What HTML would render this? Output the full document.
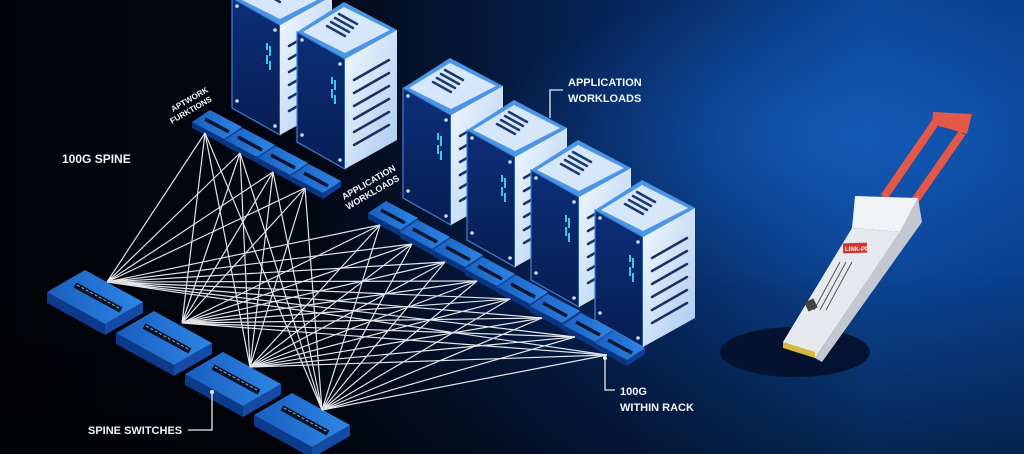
<!DOCTYPE html>
<html><head><meta charset="utf-8"><style>
html,body{margin:0;padding:0;background:#000;}
svg{display:block;}
text{font-family:"Liberation Sans",sans-serif;font-weight:bold;fill:#f2f4f8;}
</style></head><body>
<svg width="1024" height="454" viewBox="0 0 1024 454" xmlns="http://www.w3.org/2000/svg">
<defs>
<linearGradient id="bg" x1="0" y1="0" x2="1" y2="0">
<stop offset="0" stop-color="#020308"/><stop offset="0.3" stop-color="#030712"/>
<stop offset="0.6" stop-color="#06245a"/><stop offset="0.85" stop-color="#0b4596"/><stop offset="1" stop-color="#0a3f8e"/>
</linearGradient>
<radialGradient id="glow" cx="0.83" cy="0.3" r="0.35">
<stop offset="0" stop-color="#1864c8" stop-opacity="0.7"/><stop offset="1" stop-color="#1460c0" stop-opacity="0"/>
</radialGradient>
<linearGradient id="bot" x1="0" y1="0" x2="0" y2="1">
<stop offset="0.6" stop-color="#000" stop-opacity="0"/><stop offset="1" stop-color="#000" stop-opacity="0.45"/>
</linearGradient>
<linearGradient id="side" x1="0" y1="0" x2="1" y2="1">
<stop offset="0" stop-color="#f4f9ff"/><stop offset="1" stop-color="#a9c9f0"/>
</linearGradient>
<linearGradient id="front" x1="0" y1="0" x2="0" y2="1">
<stop offset="0" stop-color="#0c2f7a"/><stop offset="1" stop-color="#081d52"/>
</linearGradient>
<linearGradient id="sw" x1="0" y1="0" x2="1" y2="0">
<stop offset="0" stop-color="#1a5fc0"/><stop offset="1" stop-color="#2e86e6"/>
</linearGradient>
<g id="srv">
<polygon points="0,0 47,-30 100,-2 48,27" fill="#4a95e6"/>
<polygon points="6,0 47,-25 93,-2 48,21" fill="#d6e7fb"/>
<g stroke="#1a3a70" stroke-width="2.5" stroke-linecap="round">
<line x1="38" y1="-14" x2="56" y2="-4"/><line x1="34" y1="-10" x2="52" y2="0"/><line x1="30" y1="-6" x2="48" y2="4"/><line x1="42" y1="-18" x2="60" y2="-8"/>
</g>
<polygon points="0,0 48,27 48,137 0,110" fill="url(#front)" stroke="#3b82d8" stroke-width="1.2"/>
<polygon points="48,27 100,-2 100,108 48,137" fill="url(#side)"/>
<g stroke="#1b3160" stroke-width="2.5" stroke-linecap="round">
<line x1="57" y1="48" x2="92" y2="28"/><line x1="57" y1="61" x2="92" y2="41"/><line x1="57" y1="74" x2="92" y2="54"/><line x1="57" y1="87" x2="92" y2="67"/><line x1="57" y1="100" x2="92" y2="80"/><line x1="57" y1="113" x2="92" y2="93"/>
</g>
<g stroke="#38c8f0" stroke-width="2"><line x1="35" y1="45" x2="35" y2="52"/><line x1="38" y1="48" x2="38" y2="58"/><line x1="35" y1="57" x2="35" y2="66"/><line x1="38" y1="63" x2="38" y2="72"/></g>
<circle cx="5" cy="8" r="1.8" fill="#c8dcf5"/><circle cx="43" cy="32" r="1.8" fill="#c8dcf5"/><circle cx="5" cy="103" r="1.8" fill="#c8dcf5"/><circle cx="43" cy="128" r="1.8" fill="#c8dcf5"/>
</g>
<g id="leaf">
<polygon points="0,0 32,17 32,23 0,6" fill="#0c3580"/>
<polygon points="32,17 50,5 50,11 32,23" fill="#123f94"/>
<polygon points="0,0 18,-12 50,5 32,17" fill="url(#sw)"/>
<line x1="13" y1="-3" x2="37" y2="10" stroke="#0a1630" stroke-width="3.5"/>
</g>
<g id="spine">
<polygon points="0,0 58,32 58,43 0,11" fill="#0d3a8a"/>
<polygon points="58,32 96,10 96,21 58,43" fill="#154ba5"/>
<polygon points="0,0 38,-22 96,10 58,32" fill="url(#sw)"/>
<line x1="28" y1="-7" x2="74" y2="18" stroke="#0a1428" stroke-width="6"/>
<line x1="30" y1="-7" x2="72" y2="16" stroke="#8fb0d8" stroke-width="1" stroke-dasharray="3 2"/>
</g>
</defs>
<rect width="1024" height="454" fill="url(#bg)"/>
<rect width="1024" height="454" fill="url(#glow)"/>
<rect width="1024" height="454" fill="url(#bot)"/>

<use href="#srv" x="232" y="-2"/>
<use href="#srv" x="297" y="32"/>
<use href="#leaf" x="192" y="122"/>
<use href="#leaf" x="225" y="140"/>
<use href="#leaf" x="258" y="158"/>
<use href="#leaf" x="291" y="176"/>
<use href="#srv" x="403" y="88"/>
<use href="#srv" x="467" y="130"/>
<use href="#srv" x="531" y="170"/>
<use href="#srv" x="595" y="210"/>
<use href="#leaf" x="368" y="213"/>
<use href="#leaf" x="400" y="232"/>
<use href="#leaf" x="433" y="250"/>
<use href="#leaf" x="465" y="269"/>
<use href="#leaf" x="498" y="287"/>
<use href="#leaf" x="530" y="306"/>
<use href="#leaf" x="563" y="325"/>
<use href="#leaf" x="595" y="343"/>

<use href="#spine" x="47" y="292"/>
<use href="#spine" x="116" y="333"/>
<use href="#spine" x="185" y="374"/>
<use href="#spine" x="254" y="415"/>

<g stroke="#f4f6fa" stroke-width="1.2" opacity="0.92" fill="none">
<path d="M107,282L205,133M107,282L240,153M107,282L273,172M107,282L305,188M107,282L380,225M107,282L412,244M107,282L445,262M107,282L477,281M107,282L510,299M107,282L542,318M107,282L575,337M107,282L607,355"/>
<path d="M182,323L205,133M182,323L240,153M182,323L273,172M182,323L305,188M182,323L380,225M182,323L412,244M182,323L445,262M182,323L477,281M182,323L510,299M182,323L542,318M182,323L575,337M182,323L607,355"/>
<path d="M250,367L205,133M250,367L240,153M250,367L273,172M250,367L305,188M250,367L380,225M250,367L412,244M250,367L445,262M250,367L477,281M250,367L510,299M250,367L542,318M250,367L575,337M250,367L607,355"/>
<path d="M322,410L205,133M322,410L240,153M322,410L273,172M322,410L305,188M322,410L380,225M322,410L412,244M322,410L445,262M322,410L477,281M322,410L510,299M322,410L542,318M322,410L575,337M322,410L607,355"/>
</g>

<text x="62" y="163" font-size="12">100G SPINE</text>
<text x="88" y="434" font-size="11" font-weight="normal">SPINE SWITCHES</text>
<path d="M188,430H212V392" stroke="#e8ecf2" stroke-width="1.3" fill="none"/>
<circle cx="212" cy="392" r="2" fill="#e8ecf2"/>
<text x="568" y="86" font-size="11">APPLICATION</text>
<text x="568" y="102" font-size="11">WORKLOADS</text>
<path d="M563,90H550V118" stroke="#e8ecf2" stroke-width="1.3" fill="none"/>
<text x="620" y="395" font-size="11">100G</text>
<text x="620" y="411" font-size="11">WITHIN RACK</text>
<path d="M605,358V390H615" stroke="#e8ecf2" stroke-width="1.3" fill="none"/>
<circle cx="605" cy="358" r="2" fill="#e8ecf2"/>
<text transform="translate(344,200) rotate(-30)" font-size="9">APPLICATION</text>
<text transform="translate(348,210) rotate(-30)" font-size="9">WORKLOADS</text>
<text transform="translate(173,112) rotate(-30)" font-size="8">APTWORK</text>
<text transform="translate(172,124) rotate(-30)" font-size="8">FURKTIONS</text>

<ellipse cx="795" cy="352" rx="75" ry="25" fill="#04102a" opacity="0.9"/>
<g fill="none" stroke="#e4584a" stroke-width="8" stroke-linejoin="round">
<path d="M884,197L937,120M914,202L962,133"/>
</g>
<polygon points="933,112 972,114 967,134 932,124" fill="#e4584a"/>
<polygon points="852,228 855,196 918,198 900,232" fill="#f1f3f6"/>
<polygon points="900,232 918,198 922,222 822,362 815,358" fill="#c3c8d0"/>
<polygon points="852,228 900,232 815,358 783,342" fill="#e6e9ee"/>
<polygon points="783,342 815,352 815,358 783,348" fill="#d8b640"/>
<rect x="843" y="243" width="24" height="10" fill="#d6302a" transform="rotate(-2 855 248)"/>
<text x="845" y="251" font-size="6" style="fill:#fff">LINK-PP</text>
<g stroke="#555" stroke-width="1"><line x1="840" y1="262" x2="814" y2="310"/><line x1="846" y1="262" x2="820" y2="310"/><line x1="852" y1="262" x2="826" y2="310"/></g>
<rect x="806" y="300" width="10" height="10" fill="#444" transform="rotate(-25 811 305)"/>
</svg>
</body></html>
